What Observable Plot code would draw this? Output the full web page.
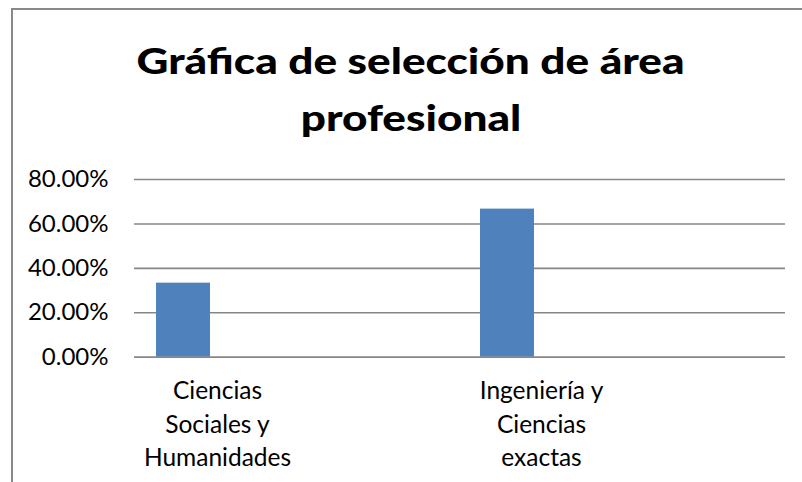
<!DOCTYPE html>
<html><head><meta charset="utf-8">
<script src="https://cdn.jsdelivr.net/npm/d3@7"></script>
<script src="https://cdn.jsdelivr.net/npm/@observablehq/plot@0.6"></script>
<style>
html,body{margin:0;padding:0;background:#fff;}
#wrap{position:relative;width:802px;height:482px;overflow:hidden;font-family:Lato,sans-serif;color:#000;}
#frame{position:absolute;left:11px;top:8px;width:900px;height:600px;border-left:2px solid #898989;border-top:2px solid #898989;}
.t{position:absolute;left:10px;width:802px;text-align:center;font-weight:900;font-size:36px;line-height:56px;white-space:nowrap;}
.t span{display:inline-block;transform-origin:50% 50%;}
#chart{position:absolute;left:0;top:160px;}
</style></head>
<body><div id="wrap"><div id="frame"></div>
<div class="t" id="t1" style="top:32px"><span></span></div>
<div class="t" id="t2" style="top:89px"><span></span></div>
<div id="chart"></div></div>
<script>
const titleLines = ["Gráfica de selección de área", "profesional"];
const categories = ["Ciencias Sociales y Humanidades", "Ingeniería y Ciencias exactas"];
const tickLabels = ["Ciencias\nSociales y\nHumanidades", "Ingeniería y\nCiencias\nexactas"];
const values = [0.3333, 0.6667];
const yTicks = [0, 0.2, 0.4, 0.6, 0.8];

const s1 = document.querySelector("#t1 span"), s2 = document.querySelector("#t2 span");
s1.textContent = titleLines[0];
s2.textContent = titleLines[1];
const k = 548 / s1.getBoundingClientRect().width;
s1.style.transform = `scaleX(${k})`;
s2.style.transform = `scaleX(${k})`;

const data = categories.map((c, i) => ({category: c, value: values[i]}));
const xDomain = [categories[0], "_gap1", categories[1], "_gap2"];

const chart = Plot.plot({
  width: 802, height: 322,
  marginLeft: 134, marginRight: 17, marginTop: 19, marginBottom: 125.3,
  x: {domain: xDomain, padding: 0, axis: null},
  y: {domain: [0, 0.8], axis: null},
  style: {fontFamily: "Lato, sans-serif", fontSize: "24px", color: "#000", background: "transparent"},
  marks: [
    Plot.gridY(yTicks, {stroke: "#878787", strokeOpacity: 1, strokeWidth: 1.6}),
    Plot.barY(data, {x: "category", y: "value", fill: "#4f81bd", insetLeft: 20, insetRight: 88}),
    Plot.ruleY([0], {stroke: "#878787", strokeWidth: 1.6}),
    Plot.axisY(yTicks, {tickFormat: d3.format(".2%"), tickSize: 0, tickPadding: 26, label: null, fontSize: 24}),
    Plot.axisX(categories, {tickFormat: d => tickLabels[categories.indexOf(d)], tickSize: 0, tickPadding: 18, lineHeight: 1.37, fontSize: 24.5, label: null})
  ]
});
document.getElementById("chart").append(chart);
</script>
</body></html>
